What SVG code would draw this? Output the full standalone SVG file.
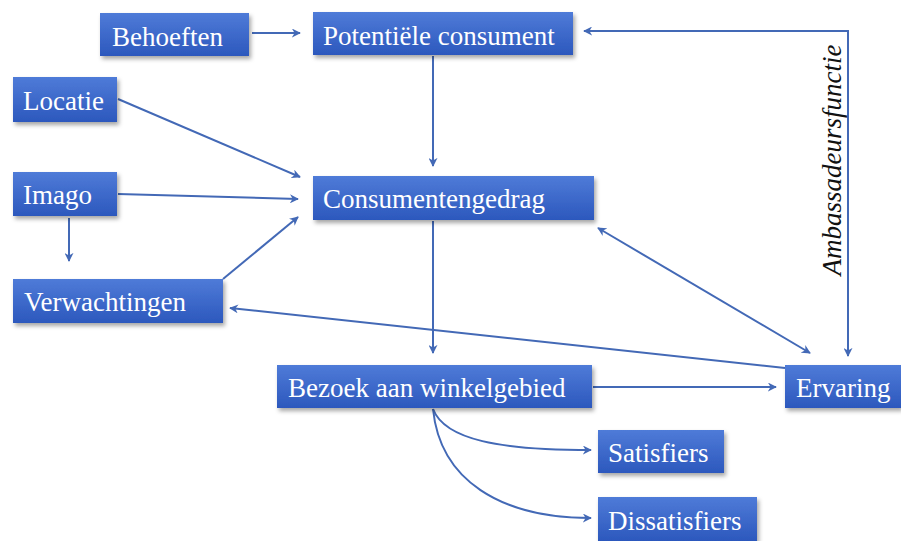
<svg xmlns="http://www.w3.org/2000/svg" width="901" height="541" viewBox="0 0 901 541">
<defs>
<linearGradient id="g" x1="0" y1="0" x2="0" y2="1">
<stop offset="0" stop-color="#4f7bd8"/>
<stop offset="1" stop-color="#2c58bd"/>
</linearGradient>
<filter id="sh" x="-10%" y="-20%" width="130%" height="160%">
<feDropShadow dx="2" dy="3" stdDeviation="2" flood-color="#000" flood-opacity="0.35"/>
</filter>
<marker id="ah" viewBox="0 0 10 10" refX="9" refY="5" markerWidth="9" markerHeight="9" markerUnits="userSpaceOnUse" orient="auto-start-reverse">
<path d="M0,0 L10,5 L0,10 L3,5 Z" fill="#4369b6"/>
</marker>
</defs>
<style>
.box{fill:url(#g);filter:url(#sh)}
.t{font-family:"Liberation Serif","Times New Roman",serif;font-size:27px;fill:#fff}
.c{fill:none;stroke:#4369b6;stroke-width:2}
.lbl{font-family:"Liberation Serif","Times New Roman",serif;font-size:27px;font-style:italic;fill:#111}
</style>
<rect width="901" height="541" fill="#fff"/>
<g id="connectors">
<line class="c" x1="252" y1="33" x2="300" y2="33" marker-end="url(#ah)"/>
<line class="c" x1="433" y1="56" x2="433" y2="166" marker-end="url(#ah)"/>
<line class="c" x1="118" y1="99" x2="300" y2="177" marker-end="url(#ah)"/>
<line class="c" x1="118" y1="194" x2="298" y2="199" marker-end="url(#ah)"/>
<line class="c" x1="69" y1="218" x2="69" y2="261" marker-end="url(#ah)"/>
<line class="c" x1="223" y1="279" x2="298" y2="217" marker-end="url(#ah)"/>
<line class="c" x1="433" y1="221" x2="433" y2="353" marker-end="url(#ah)"/>
<line class="c" x1="593" y1="387" x2="776" y2="387" marker-end="url(#ah)"/>
<line class="c" x1="785" y1="368" x2="230" y2="308" marker-end="url(#ah)"/>
<line class="c" x1="598" y1="228" x2="810" y2="353" marker-start="url(#ah)" marker-end="url(#ah)"/>
<polyline class="c" points="848,356 848,31 584,31" marker-start="url(#ah)" marker-end="url(#ah)"/>
<path class="c" d="M433,409 C445,440 500,450 591,450" marker-end="url(#ah)"/>
<path class="c" d="M433,409 C440,480 500,518 591,518" marker-end="url(#ah)"/>
</g>
<text class="lbl" transform="translate(841,160) rotate(-90)" text-anchor="middle">Ambassadeursfunctie</text>
<g id="behoeften"><rect class="box" x="100" y="13" width="149" height="43"/><text class="t" x="112" y="46">Behoeften</text></g>
<g id="potentiele"><rect class="box" x="313" y="12" width="260" height="43"/><text class="t" x="323" y="45">Potentiële consument</text></g>
<g id="locatie"><rect class="box" x="13" y="77" width="104" height="45"/><text class="t" x="23" y="110">Locatie</text></g>
<g id="imago"><rect class="box" x="13" y="172" width="104" height="44"/><text class="t" x="23" y="204">Imago</text></g>
<g id="verwachtingen"><rect class="box" x="13" y="279" width="210" height="44"/><text class="t" x="24" y="311">Verwachtingen</text></g>
<g id="consumentengedrag"><rect class="box" x="313" y="176" width="281" height="44"/><text class="t" x="323" y="208">Consumentengedrag</text></g>
<g id="bezoek"><rect class="box" x="277" y="365" width="315" height="43"/><text class="t" x="288" y="397">Bezoek aan winkelgebied</text></g>
<g id="ervaring"><rect class="box" x="785" y="365" width="116" height="43"/><text class="t" x="796" y="397">Ervaring</text></g>
<g id="satisfiers"><rect class="box" x="598" y="430" width="126" height="43"/><text class="t" x="608" y="462">Satisfiers</text></g>
<g id="dissatisfiers"><rect class="box" x="598" y="497" width="159" height="44"/><text class="t" x="608" y="530">Dissatisfiers</text></g>
</svg>
